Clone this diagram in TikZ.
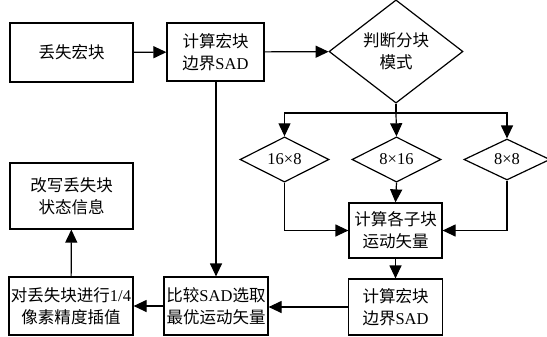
\documentclass[tikz,border=0pt]{standalone}
\usepackage{fontspec}
\setmainfont{Liberation Serif}
\newfontfamily\cjk{Noto Sans CJK SC}
\usetikzlibrary{shapes.geometric,arrows.meta}
\tikzset{
  box/.style={draw, line width=1.2bp, rectangle, inner sep=0pt, align=center,
    font=\fontsize{16.5bp}{22bp}\selectfont},
  dia/.style={draw, line width=1.2bp, diamond, inner sep=0pt, align=center,
    font=\fontsize{16.5bp}{22bp}\selectfont},
  arr/.style={line width=1.2bp, -{Triangle[length=13bp,width=12bp]}},
  ln/.style={line width=1.2bp}
}
\begin{document}
\begin{tikzpicture}[x=1bp,y=-1bp]
\useasboundingbox (0,0) rectangle (547,336);
\node[box, minimum width=123bp, minimum height=59bp] (lost) at (71.5,52.5) {\cjk 丢失宏块};
\node[box, minimum width=97bp, minimum height=58bp] (sad1) at (215.5,52) {\cjk 计算宏块\\{\cjk 边界}SAD};
\node[dia, minimum width=134bp, minimum height=77bp] (mode) at (396,51.5) {\cjk 判断分块\\{\cjk 模式}};
\node[dia, minimum width=89bp, minimum height=41bp] (d1) at (284.5,159.5) {16×8};
\node[dia, minimum width=89bp, minimum height=41bp] (d2) at (396.5,159.5) {8×16};
\node[dia, minimum width=86bp, minimum height=41bp] (d3) at (507,159.5) {8×8};
\node[box, minimum width=93bp, minimum height=55bp] (sub) at (395.5,230.5) {\cjk 计算各子块\\{\cjk 运动矢量}};
\node[box, minimum width=94bp, minimum height=56bp] (sad2) at (395.5,307) {\cjk 计算宏块\\{\cjk 边界}SAD};
\node[box, minimum width=104bp, minimum height=58bp] (cmp) at (216,306) {{\cjk 比较}SAD{\cjk 选取}\\{\cjk 最优运动矢量}};
\node[box, minimum width=124bp, minimum height=58bp] (interp) at (71,306) {{\cjk 对丢失块进行}1/4\\{\cjk 像素精度插值}};
\node[box, minimum width=123bp, minimum height=66bp] (rew) at (71.5,196) {\cjk 改写丢失块\\{\cjk 状态信息}};
\coordinate (j) at (396,113);
\draw[arr] (lost) -- (sad1);
\draw[arr] (sad1) -- (mode);
\draw[ln] (mode.south) -- (j);
\draw[arr] (j) -- (d2.north);
\draw[arr] (j) -| (d1.north);
\draw[arr] (j) -| (d3.north);
\draw[arr] (d2.south) -- (sub.north);
\draw[arr] (d1.south) |- (sub.west);
\draw[arr] (d3.south) |- (sub.east);
\draw[arr] (sub) -- (sad2);
\draw[arr] (sad2.west) -- (sad2.west -| cmp.east);
\draw[arr] (sad1.south -| cmp.north) -- (cmp.north);
\draw[arr] (cmp) -- (interp);
\draw[arr] (interp) -- (rew);
\end{tikzpicture}
\end{document}
